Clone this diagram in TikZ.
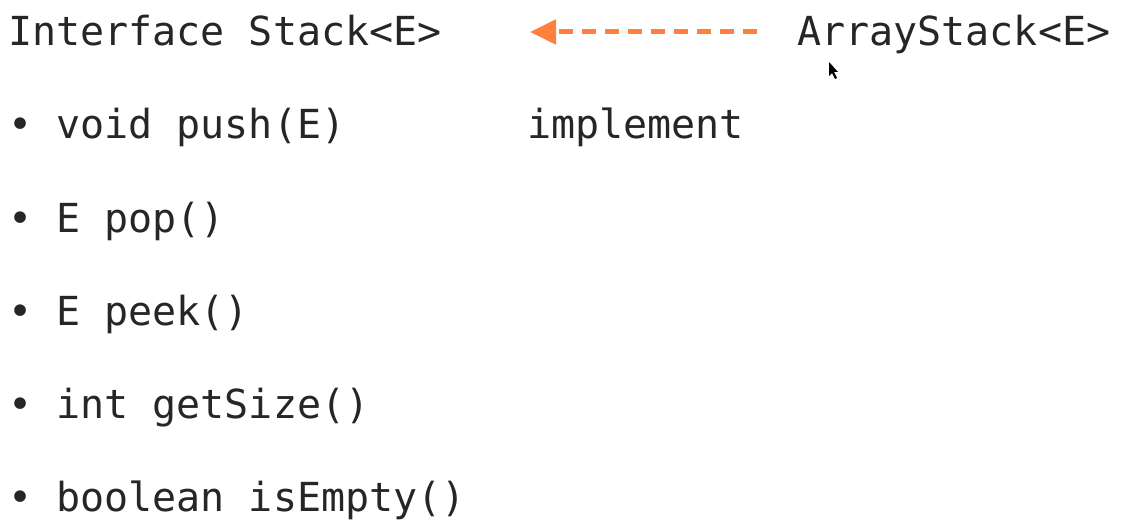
\documentclass[tikz,border=0pt]{standalone}
\usepackage{fontspec}
\setmainfont{DejaVu Sans Mono}
\usetikzlibrary{arrows.meta}
\definecolor{orng}{HTML}{FF7F3F}
\begin{document}
\begin{tikzpicture}[x=1pt,y=-1pt,
  txt/.style={anchor=base west,inner sep=0pt,font=\fontsize{40}{48}\selectfont,text=black!85}]
\useasboundingbox[fill=white] (0,0) rectangle (1122,524);
\node[txt] (iface) at (8,46) {Interface Stack<E>};
\node[txt] (impl) at (797,46) {ArrayStack<E>};
\node[txt] (lbl) at (527,139) {implement};
\node[txt] (m1) at (8,139) {• void push(E)};
\node[txt] (m2) at (8,232) {• E pop()};
\node[txt] (m3) at (8,325) {• E peek()};
\node[txt] (m4) at (8,418) {• int getSize()};
\node[txt] (m5) at (8,511) {• boolean isEmpty()};
\coordinate (as) at (757,32);
\coordinate (ae) at (530,32);
\draw[orng,line width=5pt,dash pattern=on 14pt off 9pt,-{Triangle[length=26pt,width=24pt]}] (as) -- (ae);
\fill[black] (829,62) -- (829,76) -- (832,73) -- (835,79) -- (837,78) -- (834,72) -- (838,72) -- cycle;
\end{tikzpicture}
\end{document}
